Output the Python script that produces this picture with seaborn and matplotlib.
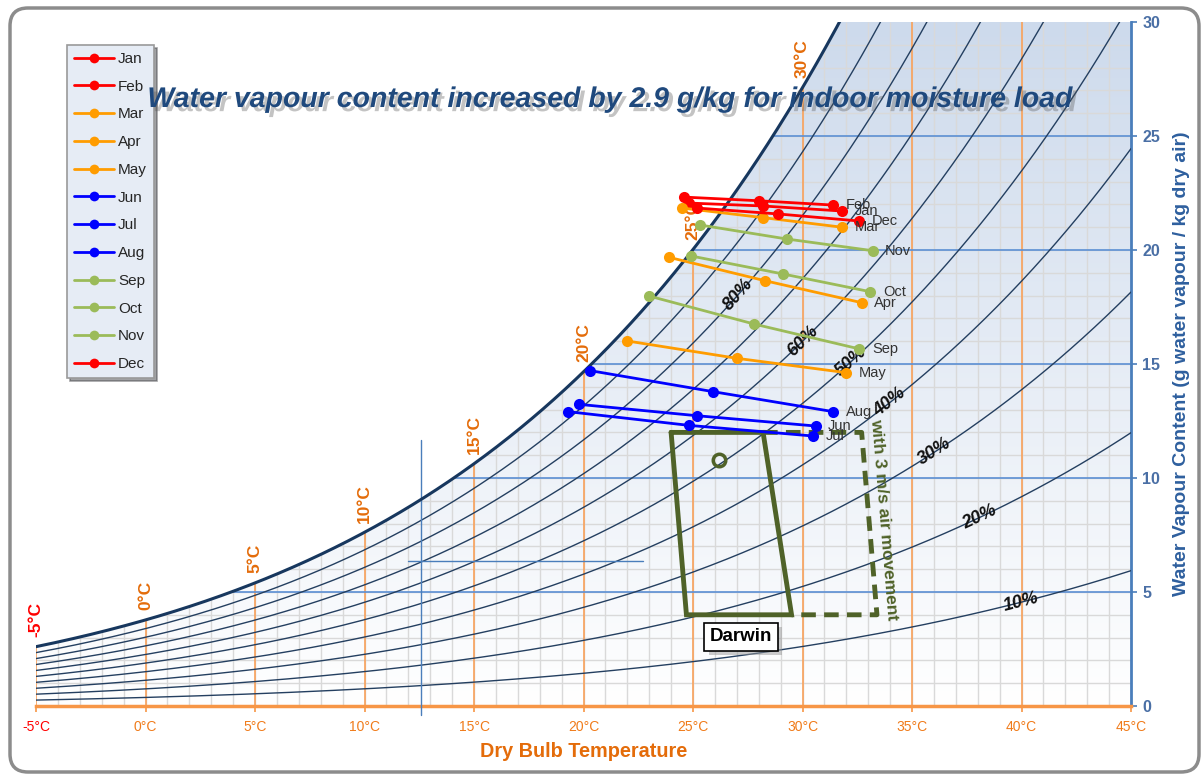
import numpy as np
import pandas as pd
import matplotlib
matplotlib.use("Agg")
import matplotlib.pyplot as plt
import matplotlib.patheffects as pe
from matplotlib.patches import FancyBboxPatch, Polygon
from matplotlib.colors import LinearSegmentedColormap
from matplotlib.lines import Line2D
from matplotlib.transforms import IdentityTransform
import seaborn as sns

sns.set_theme(style="white")
plt.rcParams["font.family"] = ["Liberation Sans", "DejaVu Sans"]

# ---- monthly climate lines: morning, mean and afternoon states ----
months = ["Jan", "Feb", "Mar", "Apr", "May", "Jun",
          "Jul", "Aug", "Sep", "Oct", "Nov", "Dec"]
t_morning = [24.8, 24.6, 24.5, 23.9, 22.0, 19.8, 19.3, 20.3, 23.0, 24.9, 25.3, 25.2]
t_mean = [28.2, 28.0, 28.2, 28.3, 27.0, 25.2, 24.8, 25.9, 27.8, 29.1, 29.3, 28.9]
t_afternoon = [31.8, 31.4, 31.8, 32.7, 32.0, 30.6, 30.5, 31.4, 32.6, 33.1, 33.2, 32.6]
w_morning = [22.06, 22.32, 21.84, 19.68, 16.01, 13.23, 12.91, 14.71, 17.98, 19.74, 21.10, 21.84]
w_mean = [21.93, 22.16, 21.42, 18.65, 15.25, 12.73, 12.31, 13.79, 16.75, 18.95, 20.48, 21.58]
w_afternoon = [21.71, 21.97, 21.00, 17.69, 14.62, 12.28, 11.84, 12.91, 15.66, 18.17, 19.97, 21.27]
month_colors = ["#ff0000", "#ff0000", "#ff9c00", "#ff9c00", "#ff9c00", "#0000ff",
                "#0000ff", "#0000ff", "#9bbb59", "#9bbb59", "#9bbb59", "#ff0000"]

# ---- comfort zone (Darwin) ----
zone_t = [24.0, 28.2, 29.5, 24.7]
zone_w = [12.0, 12.0, 4.0, 4.0]
air_t = [28.2, 32.7, 33.4, 29.5]
air_w = [12.0, 12.0, 4.0, 4.0]
neutral_t, neutral_w = 26.2, 10.79

# ---- chart axes ----
t_ticks = [-5, 0, 5, 10, 15, 20, 25, 30, 35, 40, 45]
w_ticks = [0, 5, 10, 15, 20, 25, 30]
rh_levels = [0.1, 0.2, 0.3, 0.4, 0.5, 0.6, 0.7, 0.8, 0.9]
rh_label_pct = [10, 20, 30, 40, 50, 60, 80]
rh_label_t = [40.0, 38.1, 36.05, 34.0, 32.2, 30.0, 27.05]
sat_label_t = [-5, 0, 5, 10, 15, 20, 25, 30]

P_ATM = 1013.25  # hPa


def sat_pressure(t):
    return 6.112 * np.exp(17.62 * t / (243.12 + t))


def moisture(t, rh):
    pv = rh * sat_pressure(t)
    return 621.98 * pv / (P_ATM - pv)


W, H = 1203, 776
fig = plt.figure(figsize=(W / 100, H / 100), dpi=100)
fig.patch.set_facecolor("white")
ax = fig.add_axes([36 / W, 1 - 706 / H, (1131 - 36) / W, (706 - 22) / H])
ax.set_xlim(-5, 45)
ax.set_ylim(0, 30)
ax.set_facecolor("white")

# region below the saturation curve
t_fine = np.linspace(-5, 45, 1001)
w_sat = moisture(t_fine, 1.0)
inside = w_sat <= 30.5
verts = list(zip(t_fine[inside], np.minimum(w_sat[inside], 30.5)))
verts += [(45, 30.5), (45, 0), (-5, 0)]
chart_area = Polygon(verts, closed=True, transform=ax.transData)

grad = np.linspace(0, 1, 256).reshape(-1, 1)
bg_cmap = LinearSegmentedColormap.from_list("bg", ["#ffffff", "#cddaec"])
im = ax.imshow(grad, extent=[-5, 45, 0, 30], origin="lower", cmap=bg_cmap,
               aspect="auto", zorder=0)
im.set_clip_path(chart_area)

minor_v = ax.vlines(np.arange(-4, 45, 1), 0, 30, colors="#d9d9d9", lw=1, zorder=1)
minor_h = ax.hlines(np.arange(1, 30, 1), -5, 45, colors="#d9d9d9", lw=1, zorder=1)
major_v = ax.vlines(t_ticks[:-1], 0, 30, colors="#f9a15a", lw=1.2, zorder=2)
major_h = ax.hlines(w_ticks[1:-1], -5, 45, colors="#5b8fd4", lw=1.2, zorder=2)
for coll in (minor_v, minor_h, major_v, major_h):
    coll.set_clip_path(chart_area)

# relative humidity curves and saturation line
for rh in rh_levels:
    ax.plot(t_fine, moisture(t_fine, rh), color="#243f60", lw=1, zorder=3)
ax.plot(t_fine, w_sat, color="#17375e", lw=2.2, zorder=4)

# temperature labels on the saturation line
for t in sat_label_t:
    ax.annotate(f"{t}°C", xy=(t, moisture(t, 1.0)), xytext=(0, 7),
                textcoords="offset points", rotation=90, ha="center", va="bottom",
                fontsize=12.5, fontweight="bold",
                color="#ff0000" if t < 0 else "#e46c0a", zorder=5)

# relative humidity labels along the curves
for pct, t in zip(rh_label_pct, rh_label_t):
    rh = pct / 100
    p1 = ax.transData.transform((t - 0.4, moisture(t - 0.4, rh)))
    p2 = ax.transData.transform((t + 0.4, moisture(t + 0.4, rh)))
    ang = np.degrees(np.arctan2(p2[1] - p1[1], p2[0] - p1[0]))
    ax.text(t, moisture(t, rh), f"{pct}%", rotation=ang, rotation_mode="anchor",
            ha="center", va="center", fontsize=13, fontweight="bold",
            fontstyle="italic", color="#111111", zorder=5)

# cross-hair lines
ax.plot([12.6, 12.6], [11.67, -0.4], color="#4a7ebb", lw=1, zorder=3, clip_on=False)
ax.plot([12.0, 22.7], [6.36, 6.36], color="#4a7ebb", lw=1, zorder=3)

# comfort zone
olive = "#4f6228"
ax.plot(zone_t + zone_t[:1], zone_w + zone_w[:1], color=olive, lw=3.5,
        solid_joinstyle="miter", zorder=5)
ax.plot(air_t, air_w, color=olive, lw=3.5, ls=(0, (3, 1.7)), zorder=5)
ax.plot(neutral_t, neutral_w, marker="o", mfc="none", mec=olive, mew=2.5, ms=9, zorder=5)
ax.annotate("Darwin", xy=(27.2, 3.03), xytext=(3, -3), textcoords="offset points",
            ha="center", va="center", fontsize=13.5, fontweight="bold", color="none",
            bbox=dict(boxstyle="square,pad=0.3", fc="#9a9a9a", ec="none", alpha=0.5),
            zorder=5)
ax.text(27.2, 3.03, "Darwin", ha="center", va="center", fontsize=13.5,
        fontweight="bold", color="black",
        bbox=dict(boxstyle="square,pad=0.3", fc="white", ec="black", lw=1.2), zorder=6)
ax.text(33.72, 8.2, "with 3 m/s air movement", rotation=-85.3, ha="center",
        va="center", fontsize=12.5, fontweight="bold", color=olive, zorder=5)

# monthly lines
rows = []
for i, m in enumerate(months):
    for t, w in zip((t_morning[i], t_mean[i], t_afternoon[i]),
                    (w_morning[i], w_mean[i], w_afternoon[i])):
        rows.append((m, t, w))
df = pd.DataFrame(rows, columns=["month", "tdb", "w"])
palette = dict(zip(months, month_colors))
sns.lineplot(data=df, x="tdb", y="w", hue="month", hue_order=months,
             palette=palette, marker="o", markersize=8, markeredgewidth=0,
             linewidth=2, sort=False, estimator=None, legend=False, ax=ax, zorder=6)
for i, m in enumerate(months):
    ax.annotate(m, xy=(t_afternoon[i], w_afternoon[i]), xytext=(9, 0),
                textcoords="offset points", ha="left", va="center",
                fontsize=10.5, color="#333333", zorder=6)

# axes styling
for side in ("top", "left"):
    ax.spines[side].set_visible(False)
ax.spines["bottom"].set_color("#f79646")
ax.spines["bottom"].set_linewidth(2.5)
ax.spines["right"].set_color("#4a7ebb")
ax.spines["right"].set_linewidth(2)
ax.yaxis.tick_right()
ax.yaxis.set_label_position("right")
ax.set_xticks(t_ticks)
ax.set_xticklabels([f"{t}°C" for t in t_ticks])
ax.set_yticks(w_ticks)
ax.set_yticklabels([str(v) for v in w_ticks])
ax.tick_params(axis="x", direction="out", length=4, width=1.2, color="#f79646",
               labelsize=10, pad=6, bottom=True)
ax.tick_params(axis="y", direction="out", length=4, width=1.2, color="#4a7ebb",
               labelsize=11.5, labelcolor="#4a6fa5", pad=4, right=True, left=False)
for lbl, t in zip(ax.get_xticklabels(), t_ticks):
    lbl.set_color("#ff0000" if t < 0 else "#f07b1a")
for lbl in ax.get_yticklabels():
    lbl.set_fontweight("bold")
ax.set_xlabel("Dry Bulb Temperature", fontsize=14.3, fontweight="bold",
              color="#e46c0a", labelpad=6)
ax.set_ylabel("Water Vapour Content (g water vapour / kg dry air)", fontsize=14,
              fontweight="bold", color="#2e5f9e", labelpad=9)
ax.grid(False)

# legend
handles = [Line2D([0], [0], color=c, lw=2, marker="o", ms=7, mew=0) for c in month_colors]
leg = fig.legend(handles, months, loc="upper left",
                 bbox_to_anchor=(67 / W, 1 - 45 / H), bbox_transform=fig.transFigure,
                 borderaxespad=0, fontsize=11, handlelength=2.6, handletextpad=0.3,
                 labelspacing=0.9, borderpad=0.45, fancybox=False, shadow=True,
                 frameon=True)
leg.get_frame().set_facecolor("#e6ecf5")
leg.get_frame().set_edgecolor("#9a9a9a")
leg.get_frame().set_linewidth(1.2)

# title
fig.text(610 / W, 1 - 100 / H,
         "Water vapour content increased by 2.9 g/kg for indoor moisture load",
         ha="center", va="center", fontsize=20.5, fontweight="bold",
         fontstyle="italic", color="#1f497d", zorder=10,
         path_effects=[pe.withSimplePatchShadow(offset=(3, -3),
                                                shadow_rgbFace="#555555", alpha=0.35)])

# rounded outer frame
frame = FancyBboxPatch((10, 4), 1189, 764, boxstyle="round,pad=0,rounding_size=18",
                       transform=IdentityTransform(), fill=False,
                       edgecolor="#8c8c8c", lw=2.5)
fig.patches.append(frame)

fig.savefig("out.png", dpi=100, facecolor="white")
